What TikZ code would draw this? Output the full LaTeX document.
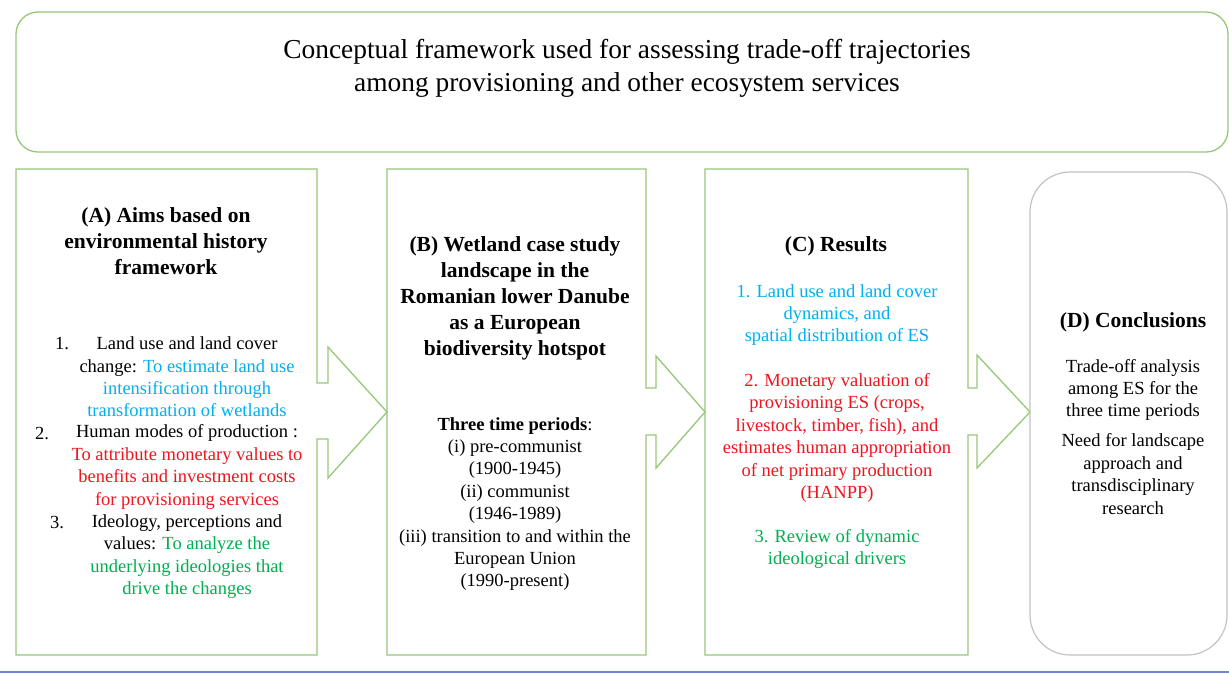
\documentclass[tikz,border=0pt]{standalone}
\usepackage{fontspec}
\setmainfont{Liberation Serif}
\definecolor{boxgreen}{RGB}{150,200,120}
\definecolor{boxgray}{RGB}{195,195,195}
\definecolor{tblue}{RGB}{0,176,240}
\definecolor{tred}{RGB}{240,20,30}
\definecolor{tgreen}{RGB}{0,176,80}
\definecolor{rulecol}{RGB}{110,140,200}
\begin{document}
\begin{tikzpicture}[x=1pt,y=-1pt,
  frame/.style={draw=boxgreen,line width=1.3pt,line join=miter},
  body/.style={align=center,inner sep=0pt,font=\fontsize{18.5}{22.4}\selectfont},
  head/.style={align=center,inner sep=0pt,font=\fontsize{21.5}{26}\selectfont\bfseries},
  titlefont/.style={align=center,inner sep=0pt,font=\fontsize{27.4}{33}\selectfont},
]
\useasboundingbox (0,0) rectangle (1229,673);
\fill[white] (0,0) rectangle (1229,673);

% top title box
\draw[frame,rounded corners=22pt] (16,12) rectangle (1228,152);
\node[titlefont] (title) at (627,68) {Conceptual framework used for assessing trade-off trajectories\\among provisioning\ and other ecosystem services};

% box A with arrow
\draw[frame] (16,169) -- (317,169) -- (317,383) -- (328,383) -- (328,347) -- (387,412)
  -- (328,478) -- (328,439) -- (317,439) -- (317,655) -- (16,655) -- cycle;
% box B with arrow
\draw[frame] (387,169) -- (646,169) -- (646,388) -- (656,388) -- (656,356) -- (705,412)
  -- (656,468) -- (656,435) -- (646,435) -- (646,655) -- (387,655) -- cycle;
% box C with arrow
\draw[frame] (705,169) -- (968,169) -- (968,388) -- (977,388) -- (977,355) -- (1030,412)
  -- (977,468) -- (977,435) -- (968,435) -- (968,655) -- (705,655) -- cycle;
% box D
\draw[draw=boxgray,line width=1.2pt,rounded corners=40pt] (1030,172) rectangle (1227,655);

% bottom rule
\draw[rulecol,line width=1.5pt] (0,672) -- (1229,672);

% A texts
\node[head] (ah) at (166,241.5) {(A) Aims based on\\environmental history\\framework};
\node[body] (a1) at (187,377) {Land use and land cover\\change: \textcolor{tblue}{To estimate land use}\\\textcolor{tblue}{intensification through}\\\textcolor{tblue}{transformation of wetlands}};
\node[body] (a2) at (187,467) {Human modes of production :\\\textcolor{tred}{To attribute monetary values to}\\\textcolor{tred}{benefits and investment costs}\\\textcolor{tred}{for provisioning services}};
\node[body] (a3) at (187,556.5) {Ideology, perceptions and\\values: \textcolor{tgreen}{To analyze the}\\\textcolor{tgreen}{underlying ideologies that}\\\textcolor{tgreen}{drive the changes}};
\node[body] (n1) at (62,343.5) {1.};
\node[body] (n2) at (42,433.5) {2.};
\node[body] (n3) at (57,522.5) {3.};

% B texts
\node[head] (bh) at (515,298) {(B) Wetland case study\\landscape in the\\Romanian lower Danube\\as a European\\biodiversity hotspot};
\node[body] (bp) at (515,504) {\textbf{Three time periods}:\\(i) pre-communist\\(1900-1945)\\(ii) communist\\(1946-1989)\\(iii) transition to and within the\\European Union\\(1990-present)};

% C texts
\node[head] (ch) at (836,246) {(C) Results};
\node[body,text=tblue] (c1) at (837,315) {1. Land use and land cover\\dynamics, and\\spatial distribution of ES};
\node[body,text=tred] (c2) at (837,438) {2. Monetary valuation of\\provisioning ES (crops,\\livestock, timber, fish), and\\estimates human appropriation\\of net primary production\\(HANPP)};
\node[body,text=tgreen] (c3) at (837,549) {3. Review of dynamic\\ideological drivers};

% D texts
\node[head] (dh) at (1133,322) {(D) Conclusions};
\node[body] (d1) at (1133,390) {Trade-off analysis\\among ES for the\\three time periods};
\node[body] (d2) at (1133,474) {Need for landscape\\approach and\\transdisciplinary\\research};
\end{tikzpicture}
\end{document}
